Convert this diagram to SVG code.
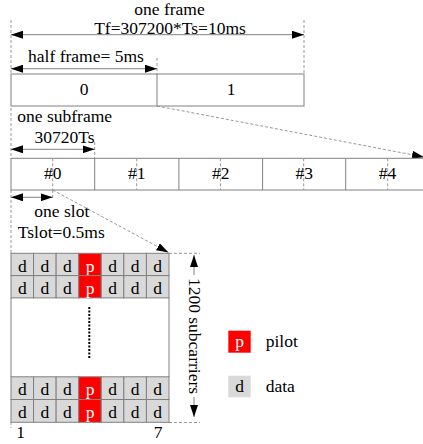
<svg xmlns="http://www.w3.org/2000/svg" width="423" height="444" viewBox="0 0 423 444" font-family="Liberation Serif, Times New Roman, DejaVu Serif, serif">
<style>
text{font-family:'Liberation Serif','Times New Roman','DejaVu Serif',serif;font-size:17.5px;fill:#000}
.c{text-anchor:middle}
.box{fill:#fff;stroke:#808080;stroke-width:1}
.dash{stroke:#999;stroke-width:1;stroke-dasharray:3,2;fill:none}
.arr{stroke:#808080;stroke-width:1;fill:none}
.d{fill:#d9d9d9;stroke:#808080;stroke-width:1}
.p{fill:#ff0000;stroke:#808080;stroke-width:1}
.pt{fill:#fff}
</style>
<defs>
<marker id="ae" viewBox="0 0 12 8" refX="12" refY="4" markerWidth="12" markerHeight="8" markerUnits="userSpaceOnUse" orient="auto"><path d="M0,0 L12,4 L0,8 Z" fill="#000"/></marker>
<marker id="as" viewBox="0 0 12 8" refX="0" refY="4" markerWidth="12" markerHeight="8" markerUnits="userSpaceOnUse" orient="auto"><path d="M12,0 L0,4 L12,8 Z" fill="#000"/></marker>
</defs>
<g id="connectors">
<line class="dash" x1="11" y1="20" x2="11" y2="74"/>
<line class="dash" x1="304" y1="20" x2="304" y2="74"/>
<line class="dash" x1="157" y1="58" x2="157" y2="74"/>
<line class="arr" x1="11" y1="34.7" x2="304" y2="34.7" marker-start="url(#as)" marker-end="url(#ae)"/>
<line class="arr" x1="11" y1="68.7" x2="157" y2="68.7" marker-start="url(#as)" marker-end="url(#ae)"/>
<line class="dash" x1="157" y1="106" x2="424" y2="157" marker-end="url(#ae)"/>
<line class="dash" x1="11" y1="108" x2="11" y2="158"/>
<line class="dash" x1="94.7" y1="142" x2="94.7" y2="158"/>
<line class="arr" x1="11" y1="149.3" x2="94.7" y2="149.3" marker-start="url(#as)" marker-end="url(#ae)"/>
<line class="dash" x1="11" y1="190" x2="11" y2="253"/>
<line class="dash" x1="52.7" y1="190" x2="52.7" y2="200"/>
<line class="arr" x1="11" y1="197.3" x2="52.7" y2="197.3" marker-start="url(#as)" marker-end="url(#ae)"/>
<line class="dash" x1="52.7" y1="190" x2="168.5" y2="252.5" marker-end="url(#ae)"/>
<line class="dash" x1="169" y1="253.3" x2="200" y2="253.3"/>
<line class="dash" x1="169" y1="422.5" x2="200" y2="422.5"/>
<line class="arr" x1="194" y1="255" x2="194" y2="275" marker-start="url(#as)"/>
<line class="arr" x1="194" y1="397" x2="194" y2="417" marker-end="url(#ae)"/>
<line class="dash" x1="11" y1="422" x2="11" y2="428"/>
</g>
<g id="labels-top">
<text class="c" x="169.5" y="15">one frame</text>
<text class="c" x="170" y="33.5">Tf=307200*Ts=10ms</text>
<text class="c" x="86" y="62.3">half frame= 5ms</text>
</g>
<g id="frame">
<rect class="box" x="11" y="74" width="293" height="32"/>
<line class="box" x1="157" y1="74" x2="157" y2="106"/>
<text class="c" x="84" y="95">0</text>
<text class="c" x="231" y="95">1</text>
</g>
<g id="subframe-labels">
<text x="17.3" y="121.7">one subframe</text>
<text class="c" x="64.5" y="142.7">30720Ts</text>
</g>
<g id="subframes">
<rect class="box" x="11" y="158.3" width="420" height="31.7"/>
<line class="box" x1="94.7" y1="158.3" x2="94.7" y2="190"/>
<line class="box" x1="178.9" y1="158.3" x2="178.9" y2="190"/>
<line class="box" x1="262.6" y1="158.3" x2="262.6" y2="190"/>
<line class="box" x1="345.7" y1="158.3" x2="345.7" y2="190"/>
<line class="dash" x1="52.7" y1="158.3" x2="52.7" y2="190"/>
<line class="dash" x1="136.7" y1="158.3" x2="136.7" y2="190"/>
<line class="dash" x1="220.4" y1="158.3" x2="220.4" y2="190"/>
<line class="dash" x1="303.7" y1="158.3" x2="303.7" y2="190"/>
<line class="dash" x1="387.7" y1="158.3" x2="387.7" y2="190"/>
<text class="c" x="52.8" y="179.3">#0</text>
<text class="c" x="136.8" y="179.3">#1</text>
<text class="c" x="220.7" y="179.3">#2</text>
<text class="c" x="304.2" y="179.3">#3</text>
<text class="c" x="387.5" y="179.3">#4</text>
</g>
<g id="slot-labels">
<text class="c" x="61.8" y="217.3">one slot</text>
<text class="c" x="61.3" y="238.3">Tslot=0.5ms</text>
</g>
<g id="slot-grid">
<line class="box" x1="11" y1="298" x2="11" y2="377"/>
<line class="box" x1="169" y1="298" x2="169" y2="377"/>
<line x1="89.3" y1="307" x2="89.3" y2="358" stroke="#000" stroke-width="2" stroke-dasharray="2,1.5"/>
<g id="row1">
<rect class="d" x="11" y="253.3" width="22.57" height="22.3"/>
<rect class="d" x="33.57" y="253.3" width="22.57" height="22.3"/>
<rect class="d" x="56.14" y="253.3" width="22.57" height="22.3"/>
<rect class="p" x="78.71" y="253.3" width="22.57" height="22.3"/>
<rect class="d" x="101.29" y="253.3" width="22.57" height="22.3"/>
<rect class="d" x="123.86" y="253.3" width="22.57" height="22.3"/>
<rect class="d" x="146.43" y="253.3" width="22.57" height="22.3"/>
<text class="c" x="22.3" y="271.7">d</text><text class="c" x="44.9" y="271.7">d</text><text class="c" x="67.4" y="271.7">d</text><text class="c pt" x="90" y="271.7">p</text><text class="c" x="112.6" y="271.7">d</text><text class="c" x="135.1" y="271.7">d</text><text class="c" x="157.7" y="271.7">d</text>
</g>
<g id="row2">
<rect class="d" x="11" y="275.6" width="22.57" height="22.3"/>
<rect class="d" x="33.57" y="275.6" width="22.57" height="22.3"/>
<rect class="d" x="56.14" y="275.6" width="22.57" height="22.3"/>
<rect class="p" x="78.71" y="275.6" width="22.57" height="22.3"/>
<rect class="d" x="101.29" y="275.6" width="22.57" height="22.3"/>
<rect class="d" x="123.86" y="275.6" width="22.57" height="22.3"/>
<rect class="d" x="146.43" y="275.6" width="22.57" height="22.3"/>
<text class="c" x="22.3" y="294">d</text><text class="c" x="44.9" y="294">d</text><text class="c" x="67.4" y="294">d</text><text class="c pt" x="90" y="294">p</text><text class="c" x="112.6" y="294">d</text><text class="c" x="135.1" y="294">d</text><text class="c" x="157.7" y="294">d</text>
</g>
<g id="row3">
<rect class="d" x="11" y="376.8" width="22.57" height="22.7"/>
<rect class="d" x="33.57" y="376.8" width="22.57" height="22.7"/>
<rect class="d" x="56.14" y="376.8" width="22.57" height="22.7"/>
<rect class="p" x="78.71" y="376.8" width="22.57" height="22.7"/>
<rect class="d" x="101.29" y="376.8" width="22.57" height="22.7"/>
<rect class="d" x="123.86" y="376.8" width="22.57" height="22.7"/>
<rect class="d" x="146.43" y="376.8" width="22.57" height="22.7"/>
<text class="c" x="22.3" y="395.3">d</text><text class="c" x="44.9" y="395.3">d</text><text class="c" x="67.4" y="395.3">d</text><text class="c pt" x="90" y="395.3">p</text><text class="c" x="112.6" y="395.3">d</text><text class="c" x="135.1" y="395.3">d</text><text class="c" x="157.7" y="395.3">d</text>
</g>
<g id="row4">
<rect class="d" x="11" y="399.5" width="22.57" height="22.8"/>
<rect class="d" x="33.57" y="399.5" width="22.57" height="22.8"/>
<rect class="d" x="56.14" y="399.5" width="22.57" height="22.8"/>
<rect class="p" x="78.71" y="399.5" width="22.57" height="22.8"/>
<rect class="d" x="101.29" y="399.5" width="22.57" height="22.8"/>
<rect class="d" x="123.86" y="399.5" width="22.57" height="22.8"/>
<rect class="d" x="146.43" y="399.5" width="22.57" height="22.8"/>
<text class="c" x="22.3" y="418">d</text><text class="c" x="44.9" y="418">d</text><text class="c" x="67.4" y="418">d</text><text class="c pt" x="90" y="418">p</text><text class="c" x="112.6" y="418">d</text><text class="c" x="135.1" y="418">d</text><text class="c" x="157.7" y="418">d</text>
</g>
<text class="c" x="20.7" y="438">1</text>
<text class="c" x="158" y="438">7</text>
</g>
<g id="subcarriers-label">
<text class="c" transform="translate(188.5,336) rotate(90)">1200 subcarriers</text>
</g>
<g id="legend">
<rect fill="#ff0000" x="228.3" y="330.7" width="22.4" height="22"/>
<text class="c pt" x="239.5" y="347.3">p</text>
<text x="265.7" y="347.3">pilot</text>
<rect fill="#d9d9d9" x="228.3" y="375.7" width="22.4" height="21.6"/>
<text class="c" x="239.5" y="391.7">d</text>
<text x="265.7" y="391.7">data</text>
</g>
</svg>
